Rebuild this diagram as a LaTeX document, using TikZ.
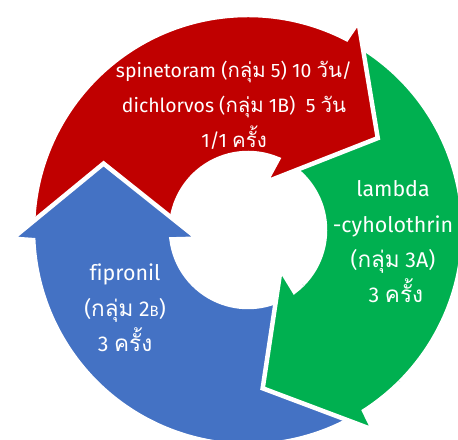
\documentclass[tikz,border=0pt]{standalone}
\usepackage{fontspec}
\setmainfont[Ligatures=NoCommon]{Fira Sans}
\newfontfamily\thaifont[Script=Thai, Scale=1.05]{Loma}
\newcommand{\thai}[1]{{\thaifont #1}}

\definecolor{segred}{HTML}{C00000}
\definecolor{seggreen}{HTML}{00B050}
\definecolor{segblue}{HTML}{4472C4}

% one curved arrow of the cycle: tail at 180 deg, head near 35 deg
\newcommand{\cyclearrow}{%
  (180:77) -- (180:215) arc[start angle=180, end angle=62.7, radius=215]
  -- (62.1:236) -- (35.3:159) -- (69.8:51) -- (67:77)
  arc[start angle=67, end angle=180, radius=77] -- cycle}

\begin{document}
\begin{tikzpicture}[
    x=1bp, y=1bp,
    seg/.style={draw=white, line width=4.5bp, line join=miter},
    lbl/.style={text=white, align=center, inner sep=0pt,
                font=\fontsize{21.5}{35.5}\selectfont}
  ]
  \useasboundingbox (0,0) rectangle (458,440);
  \clip (0,0) rectangle (458,440);

  \coordinate (c) at (248,210);

  % ===== three arrows, each head over the next tail =====
  \foreach \rot/\col in {-120/seggreen, 0/segred, 120/segblue} {
    \begin{scope}[shift={(c)}, rotate=\rot]
      \fill[seg, fill=\col] \cyclearrow;
    \end{scope}
  }
  % green head goes back on top of the blue tail
  \begin{scope}[shift={(c)}, rotate=-120]
    \clip (0,0) -- (20:300) -- (75:300) -- cycle;
    \fill[seg, fill=seggreen] \cyclearrow;
  \end{scope}

  % ===== labels =====
  \node[lbl, font=\fontsize{19.5}{35}\selectfont] (redtxt) at (234,335)
    {spinetoram (\thai{กลุ่ม} 5) 10 \thai{วัน}/\\
     dichlorvos (\thai{กลุ่ม} 1B)\ \ 5 \thai{วัน}\\
     1/1 \thai{ครั้ง}};
  \node[lbl] (greentxt) at (393,198)
    {lambda\\ -cyholothrin\\ (\thai{กลุ่ม} 3A)\\ \ 3 \thai{ครั้ง}};
  \node[lbl] (bluetxt) at (125,132)
    {fipronil\\ (\thai{กลุ่ม} 2{\fontsize{15}{15}\selectfont B})\\ 3 \thai{ครั้ง}};

\end{tikzpicture}
\end{document}
